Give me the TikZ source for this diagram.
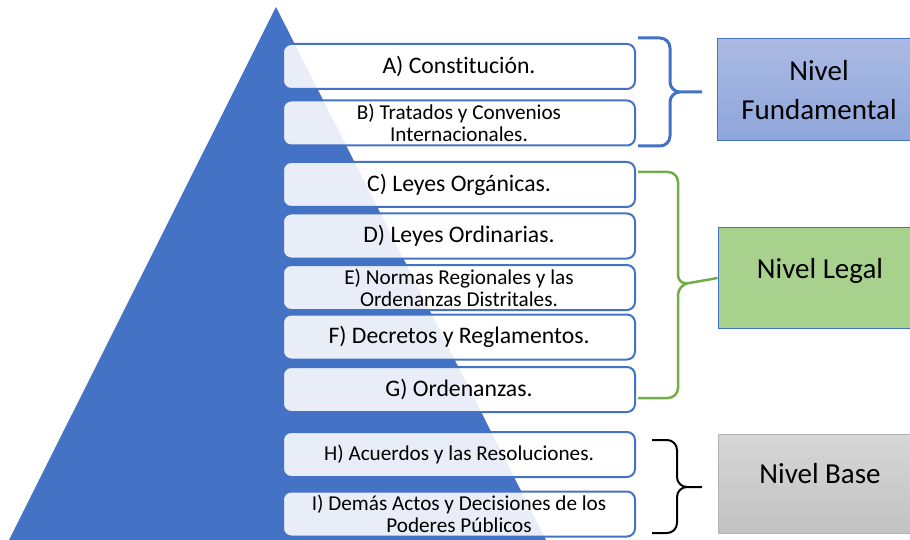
\documentclass[tikz,border=0pt]{standalone}
\usepackage{fontspec}
\setmainfont{Carlito}[Ligatures=NoCommon]
\usepackage{tikz}
\usepackage{xcolor}
\usetikzlibrary{positioning, calc}

\definecolor{pyrblue}{HTML}{4472C4}
\definecolor{fundtop}{HTML}{ABBAE3}
\definecolor{fundbot}{HTML}{8FA6DB}
\definecolor{legalgreen}{HTML}{A9D18E}
\definecolor{bracegreen}{HTML}{70AD47}
\definecolor{basetop}{HTML}{D6D6D6}
\definecolor{basebot}{HTML}{C2C2C2}
\definecolor{baseline}{HTML}{B4B4B4}

\begin{document}
\begin{tikzpicture}[x=1pt, y=-1pt,
    norma/.style={draw=pyrblue, line width=2, rounded corners=8, fill=white,
        fill opacity=0.88, text opacity=1, minimum width=352, minimum height=45,
        align=center, inner sep=1},
    big/.style={font=\fontsize{23.7}{25}\selectfont},
    small/.style={font=\fontsize{21.2}{22}\selectfont},
    nivel/.style={minimum width=204, align=center, line width=1,
        font=\fontsize{29}{39}\selectfont},
    llave/.style={line width=#1, rounded corners=10}]
\useasboundingbox (0,0) rectangle (910,540);

% Piramide
\fill[pyrblue] (276,7) -- (550,548) -- (5,548) -- cycle;

% Normas
\node[norma, big]   (consti)     at (459,66.5) {A) Constitución.};
\node[norma, small] (tratados)   at (459,123)  {B) Tratados y Convenios\\Internacionales.};
\node[norma, big]   (organicas)  at (459,184.5) {C) Leyes Orgánicas.};
\node[norma, big]   (ordinarias) at (459,236)  {D) Leyes Ordinarias.};
\node[norma, small] (regionales) at (459,287.5) {E) Normas Regionales y las\\Ordenanzas Distritales.};
\node[norma, big]   (decretos)   at (459,337)  {F) Decretos y Reglamentos.};
\node[norma, big]   (ordenanzas) at (459,389.5) {G) Ordenanzas.};
\node[norma, small] (acuerdos)   at (459,454.5) {H) Acuerdos y las Resoluciones.};
\node[norma, small] (actos)      at (459,514)  {I) Demás Actos y Decisiones de los\\Poderes Públicos};

% Niveles
\node[nivel, draw=pyrblue, top color=fundtop, bottom color=fundbot, minimum height=102]
    (fund) at (819,90) {Nivel\\Fundamental};
\node[nivel, draw=pyrblue, fill=legalgreen, minimum height=100, text depth=20]
    (legal) at (820,278) {Nivel Legal};
\node[nivel, draw=baseline, top color=basetop, bottom color=basebot, minimum height=99, text depth=20]
    (base) at (820,483.5) {Nivel Base};

% Llaves
\coordinate (fa) at (638,38);  \coordinate (fb) at (638,146);
\coordinate (fs) at (670,92);  \coordinate (ft) at (702,92);
\draw[llave=3, pyrblue] (fa) -| (fs) -- (ft) (ft) -- (fs) |- (fb);

\coordinate (la) at (638,172); \coordinate (lb) at (638,398);
\coordinate (ls) at (678,285);
\draw[llave=2.5, bracegreen] (la) -| (ls) -- (legal.west) (legal.west) -- (ls) |- (lb);

\coordinate (ba) at (652,440); \coordinate (bb) at (652,533);
\coordinate (bs) at (677,487); \coordinate (bt) at (702,487);
\draw[llave=2, black] (ba) -| (bs) -- (bt) (bt) -- (bs) |- (bb);
\end{tikzpicture}
\end{document}
